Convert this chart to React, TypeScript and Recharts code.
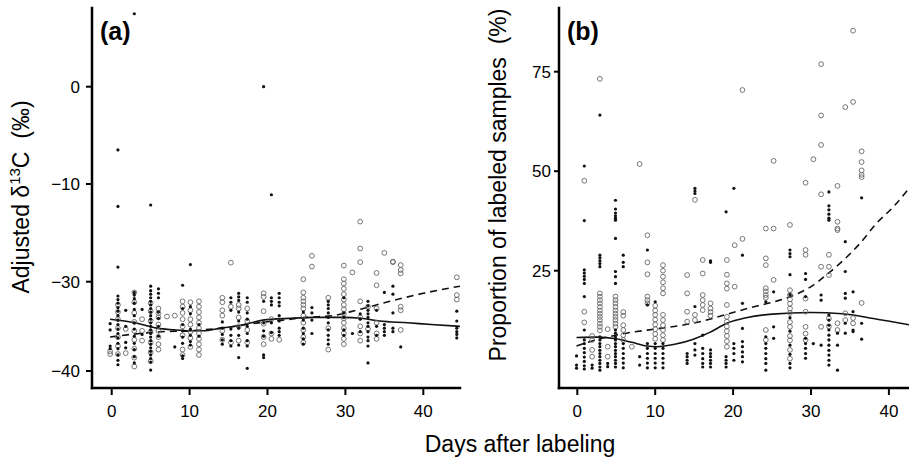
import { ComposedChart, Scatter, Line, XAxis, YAxis } from 'recharts'

const FONT = '"Liberation Sans", Arial, Helvetica, sans-serif'

// ---- panel (a): adjusted d13C, columns of [day, values] ----
const aFilledCols: [number, number[]][] = [
  [-0.2, [-34.7, -35.4, -37.2, -37.5]],
  [0.8, [-6.5, -14.6, -27.0, -31.6, -32.0, -32.4, -32.9, -33.3, -33.8, -34.3, -34.8, -35.3, -35.8, -36.3, -36.9, -37.5, -38.2, -38.8, -39.3]],
  [1.8, [-33.2, -35.0, -36.8, -37.4]],
  [2.9, [7.5, -31.2, -31.5, -31.9, -32.4, -33.1, -33.8, -34.6, -35.3, -36.1, -36.9, -37.6, -38.4, -39.1]],
  [3.9, [-33.1, -35.9]],
  [5.0, [-14.3, -30.5, -31.0, -31.4, -31.8, -32.2, -32.6, -33.0, -33.4, -33.8, -34.2, -34.6, -35.0, -35.4, -35.8, -36.2, -36.6, -37.0, -37.4, -37.8, -38.2, -38.6, -39.0, -39.9]],
  [6.0, [-30.8, -31.3, -31.8, -33.4, -34.1, -35.0, -36.1]],
  [8.1, [-37.3]],
  [9.1, [-30.4, -33.0, -34.8, -35.5, -36.2, -36.9, -38.3, -38.6]],
  [10.1, [-26.5, -32.8, -33.6, -35.3, -36.0, -36.7, -37.1]],
  [11.2, [-34.8, -36.1]],
  [14.2, [-34.5, -35.2, -35.9, -36.5, -37.0]],
  [15.3, [-31.8, -32.3, -33.2, -35.3, -36.0, -36.6, -37.2]],
  [16.3, [-31.3, -31.7, -32.1, -33.4, -34.4, -35.2, -36.0, -37.1, -38.5]],
  [17.4, [-31.8, -32.3, -33.5, -34.2, -35.0, -35.8, -36.6, -37.2, -39.7]],
  [19.5, [0.0, -32.2, -34.6, -35.5, -36.1, -38.2, -38.5]],
  [20.5, [-12.2, -31.8, -32.2, -32.6, -34.6, -35.7]],
  [21.5, [-31.3, -31.8, -32.3, -32.7, -33.8, -34.4, -35.2, -35.6, -36.0]],
  [24.6, [-33.4, -34.3, -35.2, -35.8, -36.4, -37.0]],
  [25.7, [-32.9, -33.5, -34.3, -35.8]],
  [27.8, [-32.2, -32.6, -33.0, -33.5, -34.0, -34.6, -35.4, -36.0, -36.5, -37.0]],
  [29.8, [-31.8, -33.5, -34.0, -35.4, -36.0]],
  [30.9, [-35.8]],
  [31.9, [-33.6, -34.2, -35.6]],
  [32.9, [-32.2, -32.7, -33.2, -33.6, -34.0, -34.6, -35.0, -35.6, -36.2, -36.6, -37.2, -39.1]],
  [34.0, [-33.2, -35.0, -36.0]],
  [35.0, [-31.2, -34.8, -35.2, -35.6, -36.0]],
  [36.1, [-30.5, -31.4, -33.5, -35.2, -35.6]],
  [37.1, [-37.3]],
  [44.3, [-33.3, -34.4, -35.2, -35.6, -35.9, -36.3]],
]

const aOpenCols: [number, number[]][] = [
  [-0.2, [-37.8, -38.1]],
  [0.8, [-32.6, -33.4, -34.2, -35.2, -36.2, -37.2, -38.1]],
  [1.8, [-35.3, -38.0]],
  [2.9, [-31.2, -32.3, -33.5, -34.5, -35.5, -36.5, -37.5, -38.5, -39.5]],
  [3.9, [-34.2, -35.5, -36.6]],
  [5.0, [-32.4, -33.3, -34.4, -35.6, -36.8, -37.9, -38.9]],
  [6.0, [-33.0, -33.5, -34.0, -34.8, -35.5, -36.2, -37.0, -37.6]],
  [7.1, [-33.9]],
  [8.1, [-33.8]],
  [9.1, [-32.2, -32.8, -33.5, -34.2, -35.0, -36.0, -37.6, -38.2]],
  [10.1, [-32.3, -33.2, -34.2, -34.8, -35.6, -36.3, -37.3]],
  [11.2, [-32.2, -32.8, -33.4, -34.0, -34.6, -35.2, -35.8, -36.4, -37.0, -37.6, -38.2]],
  [14.2, [-31.8, -32.3, -33.2, -33.8, -35.5, -36.5]],
  [15.3, [-26.1, -32.8, -36.8]],
  [16.3, [-32.6, -33.0, -34.0, -35.0, -36.6]],
  [17.4, [-33.0, -34.4, -35.4, -36.8]],
  [19.5, [-31.3, -31.7, -33.3, -34.7, -36.2, -37.0]],
  [20.5, [-34.2, -35.8, -36.4]],
  [21.5, [-36.5]],
  [24.6, [-29.5, -31.2, -31.8, -32.2, -32.6, -33.0, -33.8, -34.6, -35.4, -36.2, -36.8]],
  [25.7, [-24.7, -26.9]],
  [27.8, [-31.8, -35.2, -37.6]],
  [29.8, [-26.7, -29.5, -30.2, -30.8, -31.4, -32.0, -32.6, -33.1, -33.6, -34.1, -34.6, -35.2, -35.8, -36.4, -37.0]],
  [30.9, [-28.1]],
  [31.9, [-17.7, -23.2, -26.0, -32.2, -34.0, -35.0, -35.8, -36.6]],
  [32.9, [-32.8, -35.3]],
  [34.0, [-28.2, -30.4, -33.0, -34.6, -35.8, -36.4]],
  [35.0, [-24.1]],
  [36.1, [-25.9, -26.0]],
  [37.1, [-26.6, -27.6, -28.3, -32.8, -33.2, -35.4]],
  [44.3, [-29.1, -31.5, -32.0]],
]

const aSolidX = [-0.2, 3, 5.8, 8, 10, 11.7, 14, 16.5, 19.4, 22.9, 26, 29.7, 32, 34.4, 38, 41, 44.7]
const aSolidY = [-34.2, -34.6, -35.2, -35.4, -35.5, -35.5, -35.2, -34.9, -34.3, -34.1, -34.0, -34.0, -34.1, -34.4, -34.6, -34.8, -35.0]
const aDashX = [-0.2, 3.6, 6.4, 10, 14, 18, 22, 25, 28.4, 31.4, 35.7, 40, 44.7]
const aDashY = [-36.2, -35.8, -35.6, -35.5, -35.2, -34.7, -34.3, -34.0, -33.8, -33.2, -32.2, -31.3, -30.5]
const aTicks = [-40, -30, -10, 0]

// ---- panel (b): proportion of labeled samples ----
const bFilledCols: [number, number[]][] = [
  [-0.1, [3.6, 1.3, 0.5]],
  [0.9, [51.3, 37.6, 25.2, 24.4, 23.6, 22.8, 21.8, 18.5, 10.1, 7.6, 6.7, 5.5, 4.4, 3.3, 2.2, 1.1, 0.3]],
  [1.9, [1.3, 0.5]],
  [2.9, [64.1, 28.9, 28.2, 27.5, 26.8, 26.0, 8.4, 7.6, 6.7, 5.9, 5.0, 4.2, 3.4, 2.5, 1.7, 0.8, 0.0]],
  [3.9, [1.7, 0.9]],
  [4.9, [42.7, 40.5, 39.5, 38.8, 38.2, 37.7, 33.1, 24.8, 23.5, 21.8, 10.1, 9.3, 8.4, 7.6, 6.7, 5.9, 5.0, 4.2, 3.4, 2.5, 1.7, 0.8]],
  [5.9, [28.9, 27.1, 26.0, 6.7, 5.5, 4.2, 3.0, 1.8, 0.6]],
  [8.0, [3.4, 1.3]],
  [9.0, [30.2, 16.4, 6.7, 5.5, 4.2, 3.0, 1.8, 0.6]],
  [10.0, [17.2, 6.7, 5.5, 4.2, 3.0, 1.8, 0.6]],
  [11.0, [6.7, 5.5, 4.2, 3.0, 1.8, 0.6]],
  [14.1, [4.2, 3.4, 2.5, 1.7]],
  [15.1, [45.7, 45.0, 44.4, 16.0, 6.7, 5.1, 3.8]],
  [16.1, [8.8, 5.5, 4.2, 2.9, 1.7, 0.8]],
  [17.1, [27.5, 27.1, 5.1, 4.2, 3.4, 2.5, 1.7, 0.8]],
  [19.1, [39.8, 3.4, 2.5, 1.7, 0.8]],
  [20.1, [45.7, 6.7, 5.5, 4.2, 2.5]],
  [21.2, [28.9, 16.8, 10.5, 7.2, 5.9, 4.6, 3.4, 2.1]],
  [24.2, [17.2, 8.4, 6.7, 5.5, 4.2, 2.9, 1.7, 0.0]],
  [25.2, [19.7, 10.9, 8.0]],
  [27.3, [30.2, 29.3, 28.5, 24.0, 19.0, 13.2, 9.8, 6.3, 4.0, 1.7, 0.6]],
  [29.3, [24.3, 22.8, 18.5, 8.0, 6.7, 5.5, 4.2, 3.0]],
  [30.3, [6.7]],
  [31.3, [18.9, 17.6, 6.3]],
  [32.3, [44.8, 41.3, 40.3, 39.2, 38.2, 37.7, 13.9, 12.6, 11.3, 10.1, 8.8, 7.6, 6.3, 5.0, 3.8, 2.5, 1.3]],
  [33.4, [9.3, 6.3, 0.0]],
  [34.4, [32.3, 24.8, 19.3, 18.1, 11.8, 9.3]],
  [35.4, [19.7, 14.7, 10.1, 9.7]],
  [36.5, [43.3, 11.8, 7.8]],
]

const bOpenCols: [number, number[]][] = [
  [0.9, [47.6, 14.7, 12.0]],
  [1.9, [8.6, 7.6, 5.1, 3.4]],
  [2.9, [73.2, 19.3, 18.5, 17.6, 16.8, 15.9, 15.0, 14.2, 13.4, 12.6, 11.7, 10.9, 10.0]],
  [3.9, [10.3, 5.9, 3.4]],
  [4.9, [18.5, 17.6, 16.8, 15.9, 15.0, 14.2, 13.4, 12.6, 11.7, 10.9]],
  [5.9, [14.6, 13.7, 11.3, 10.1, 8.8, 7.6]],
  [7.0, [5.9]],
  [8.0, [51.8]],
  [9.0, [33.9, 27.1, 24.1, 18.5, 17.6, 16.8]],
  [10.0, [16.2, 15.0, 13.9, 12.7, 11.5, 10.3, 9.1, 7.9]],
  [11.0, [26.4, 25.0, 23.5, 22.1, 20.6, 19.3, 13.9, 12.6, 11.3, 10.1, 8.8, 7.6]],
  [14.1, [23.9, 19.3, 14.7, 12.2]],
  [15.1, [42.8, 13.9, 12.6]],
  [16.1, [27.7, 24.3, 18.9, 17.6, 16.4, 15.1]],
  [17.1, [16.8, 15.5, 14.6, 13.7]],
  [19.2, [27.7, 24.0, 21.8, 20.5, 16.4, 13.4, 12.2, 11.0, 9.8, 8.6, 7.3, 5.9]],
  [20.2, [31.4, 21.0]],
  [21.2, [70.4, 33.0]],
  [24.2, [35.6, 28.1, 26.4, 20.6, 19.8, 18.9, 18.2, 10.1, 7.6]],
  [25.2, [52.6, 35.6, 22.7]],
  [27.3, [36.5, 20.1, 18.9, 17.8, 16.7, 15.5, 14.4, 12.1, 10.9, 8.6, 7.5, 5.1, 2.9]],
  [29.3, [47.1, 30.2, 29.0, 18.0, 14.7, 10.9, 9.2, 7.6]],
  [30.3, [53.0]],
  [31.3, [76.9, 64.0, 56.6, 44.2, 26.0, 10.9]],
  [32.3, [29.0, 26.0, 23.9, 13.0, 11.0]],
  [33.4, [46.3, 37.3, 35.6, 35.2, 11.8, 10.1]],
  [34.4, [66.1, 14.3, 12.6]],
  [35.4, [85.3, 67.4, 13.1, 11.8]],
  [36.5, [55.0, 52.3, 50.2, 49.1, 48.5, 16.9]],
]

const bSolidX = [-0.1, 2.5, 5, 7, 8.9, 10.2, 12.5, 14.9, 17, 19.2, 21.7, 25, 30, 34, 38, 42.6]
const bSolidY = [8.2, 8.3, 7.9, 7.0, 6.1, 5.9, 6.5, 7.8, 9.5, 11.8, 13.2, 14.1, 14.5, 14.2, 13.0, 11.4]
const bDashX = [-0.1, 1.8, 6.3, 10.6, 14.9, 20, 22, 24.5, 27.4, 30, 32.2, 34.2, 36.3, 38.4, 40.6, 42.6]
const bDashY = [6.1, 7.3, 9.3, 10.5, 11.8, 14.5, 15.6, 16.8, 18.5, 21.0, 24.3, 27.7, 31.9, 36.9, 41.1, 45.7]
const bTicks = [25, 50, 75]

const xTicks = [0, 10, 20, 30, 40]

// panel (a) uses a stretched, piecewise axis like the original figure
function ty(v: number) {
  if (v >= -10) return 187 + 9.73 * (v + 10)
  if (v >= -30) return 89.3 + 4.885 * (v + 30)
  return 8.93 * (v + 40)
}

const minus = (v: number) => String(v).replace('-', '\u2212')

const flat = (cols: [number, number[]][], f: (v: number) => number) =>
  cols.flatMap(([d, vs]) => vs.map((v) => ({ x: d, y: f(v) })))
const line = (xs: number[], ys: number[], f: (v: number) => number) =>
  xs.map((x, i) => ({ x, y: f(ys[i]) }))

const id = (v: number) => v

const Dot = (p: any) => <circle cx={p.cx} cy={p.cy} r={1.6} fill="#111" />
const Ring = (p: any) => <circle cx={p.cx} cy={p.cy} r={2.4} fill="none" stroke="#666" strokeWidth={0.9} />

const axisLine = { stroke: '#000', strokeWidth: 2.5, strokeLinecap: 'square' as const }
const tickLine = { stroke: '#000', strokeWidth: 2 }
const tickText = { fill: '#000', fontSize: 17, fontFamily: FONT }

function Panel({ filled, open, solid, dash, xDomain, yDomain, yTicks, yFmt, yWidth, yTickSize, yTickMargin, width }: any) {
  return (
    <ComposedChart width={width} height={458} margin={{ top: 8, right: width === 462 ? 2 : 0, bottom: 30, left: 0 }}>
      <XAxis
        type="number"
        dataKey="x"
        domain={xDomain}
        allowDataOverflow
        ticks={xTicks}
        interval={0}
        height={40}
        axisLine={axisLine}
        tickLine={tickLine}
        tickSize={7}
        tickMargin={10}
        tick={tickText}
      />
      <YAxis
        type="number"
        dataKey="y"
        domain={yDomain}
        allowDataOverflow
        ticks={yTicks}
        interval={0}
        width={yWidth}
        tickFormatter={yFmt}
        axisLine={axisLine}
        tickLine={tickLine}
        tickSize={yTickSize}
        tickMargin={yTickMargin}
        tick={tickText}
      />
      <Scatter data={open} dataKey="y" shape={Ring} isAnimationActive={false} />
      <Scatter data={filled} dataKey="y" shape={Dot} isAnimationActive={false} />
      <Line data={solid} dataKey="y" type="monotone" stroke="#111" strokeWidth={1.6} dot={false} isAnimationActive={false} />
      <Line data={dash} dataKey="y" type="monotone" stroke="#111" strokeWidth={1.6} strokeDasharray="7 5" dot={false} isAnimationActive={false} />
    </ComposedChart>
  )
}

export default function App() {
  const aYTicks = aTicks.map(ty)
  const aFmt = (t: number) => {
    const v = aTicks.find((a) => Math.abs(ty(a) - t) < 0.01)
    return v === undefined ? '' : minus(v)
  }
  return (
    <div style={{ position: 'absolute', left: 0, top: 0, width: 909, height: 458, background: '#fff', overflow: 'hidden', fontFamily: FONT }}>
      <div style={{ position: 'absolute', left: 0, top: 0 }}>
        <Panel
          width={462}
          filled={flat(aFilledCols, ty)}
          open={flat(aOpenCols, ty)}
          solid={line(aSolidX, aSolidY, ty)}
          dash={line(aDashX, aDashY, ty)}
          xDomain={[-2.53, 44.71]}
          yDomain={[-17, 363]}
          yTicks={aYTicks}
          yFmt={aFmt}
          yWidth={92}
          yTickSize={6}
          yTickMargin={6}
        />
      </div>
      <div style={{ position: 'absolute', left: 470, top: 0 }}>
        <Panel
          width={439}
          filled={flat(bFilledCols, id)}
          open={flat(bOpenCols, id)}
          solid={line(bSolidX, bSolidY, id)}
          dash={line(bDashX, bDashY, id)}
          xDomain={[-2.35, 42.58]}
          yDomain={[-4.47, 91.0]}
          yTicks={bTicks}
          yFmt={(t: number) => String(t)}
          yWidth={89}
          yTickSize={5}
          yTickMargin={3}
        />
      </div>
      <svg width={909} height={458} style={{ position: 'absolute', left: 0, top: 0, pointerEvents: 'none' }} fontFamily={FONT}>
        <text x={100} y={40} fontSize={25} fontWeight="bold" fill="#000">(a)</text>
        <text x={567} y={40} fontSize={25} fontWeight="bold" fill="#000">(b)</text>
        <text x={29} y={197} fontSize={23} fill="#000" textAnchor="middle" transform="rotate(-90 29 197)">
          Adjusted δ<tspan fontSize={15} dy={-9}>13</tspan><tspan dy={9}>C</tspan>{'\u00a0\u00a0(‰)'}
        </text>
        <text x={506} y={185} fontSize={23} fill="#000" textAnchor="middle" transform="rotate(-90 506 185)">
          {'Proportion of labeled samples\u00a0\u00a0(%)'}
        </text>
        <text x={520} y={452} fontSize={23} fill="#000" textAnchor="middle">Days after labeling</text>
      </svg>
    </div>
  )
}
